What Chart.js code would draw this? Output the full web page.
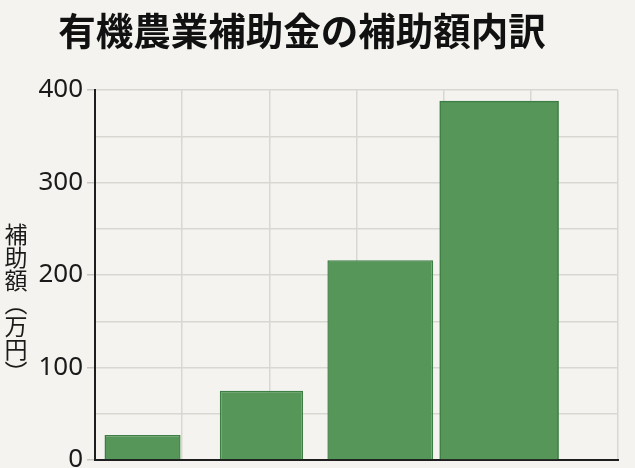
<!DOCTYPE html>
<html><head><meta charset="utf-8">
<script src="https://cdn.jsdelivr.net/npm/chart.js@4.4.1/dist/chart.umd.min.js"></script>
<style>
html,body{margin:0;padding:0;background:#f4f3ef;overflow:hidden;}
#wrap{position:relative;width:635px;height:480px;}
#ytitle{position:absolute;left:4px;top:223px;writing-mode:vertical-rl;font-family:"Noto Sans CJK JP";font-size:23px;color:#1a1a1a;line-height:1;}
</style></head><body>
<div id="wrap"><canvas id="c"></canvas><div id="ytitle"></div></div>
<script>
const chartTitle = "有機農業補助金の補助額内訳";
const yAxisTitle = "補助額（万円）";
const categories = ["区分A", "区分B", "区分C", "区分D"];
const amounts = [27, 75, 216, 388];
const yTickStep = 50;
const yLabelStep = 100;
const yMax = 400;

document.getElementById('ytitle').textContent = yAxisTitle;

const barWidthRatios = [0.64, 0.70, 0.89, 1.0];
const fill = '#569659', edge = '#3c7e43';

const datasets = categories.map((c, i) => ({
  label: c,
  data: [{x: i, y: amounts[i]}],
  grouped: false,
  categoryPercentage: 1,
  barPercentage: barWidthRatios[i],
  backgroundColor: fill,
  borderColor: edge,
  borderWidth: 1.5
}));

const PAD_LEFT = -14;
const AXIS_LEFT = 95;

new Chart(document.getElementById('c'), {
  type: 'bar',
  data: { datasets },
  options: {
    responsive: true,
    maintainAspectRatio: false,
    animation: false,
    layout: { padding: { left: PAD_LEFT, right: 17, top: 0, bottom: 20 } },
    plugins: {
      legend: { display: false },
      tooltip: { enabled: false },
      title: {
        display: true,
        text: chartTitle,
        color: '#111',
        font: { family: '"Noto Sans CJK JP"', size: 37.5, weight: 'bold' },
        padding: { top: 8, bottom: 37 }
      }
    },
    scales: {
      x: {
        type: 'linear',
        offset: false,
        min: -0.4,
        max: 4.0,
        afterBuildTicks: s => { s.ticks = categories.map((_, i) => ({ value: i })); },
        ticks: { display: false },
        grid: { display: false, drawTicks: false, offset: false },
        border: { display: true, color: '#1e1e1e', width: 2 }
      },
      x2: {
        type: 'linear',
        position: 'bottom',
        offset: false,
        min: 0,
        max: 6,
        ticks: { display: false, stepSize: 1 },
        grid: { color: '#d9d7d2', lineWidth: 1.5, drawTicks: false, offset: false },
        border: { display: false }
      },
      y: {
        min: 0,
        max: yMax,
        ticks: {
          stepSize: yTickStep,
          padding: 4,
          color: '#1a1a1a',
          font: { family: '"Noto Sans"', size: 26 },
          callback: v => (v % yLabelStep === 0 ? String(v) : '')
        },
        grid: {
          color: '#d9d7d2',
          lineWidth: 1.5,
          tickLength: 8,
          tickColor: ctx => (ctx.tick && ctx.tick.value % yLabelStep === 0 ? '#c8c6c1' : 'rgba(0,0,0,0)')
        },
        border: { display: true, color: '#1e1e1e', width: 2 },
        afterFit: s => { s.width = AXIS_LEFT - PAD_LEFT; }
      }
    }
  }
});
</script>
</body></html>
